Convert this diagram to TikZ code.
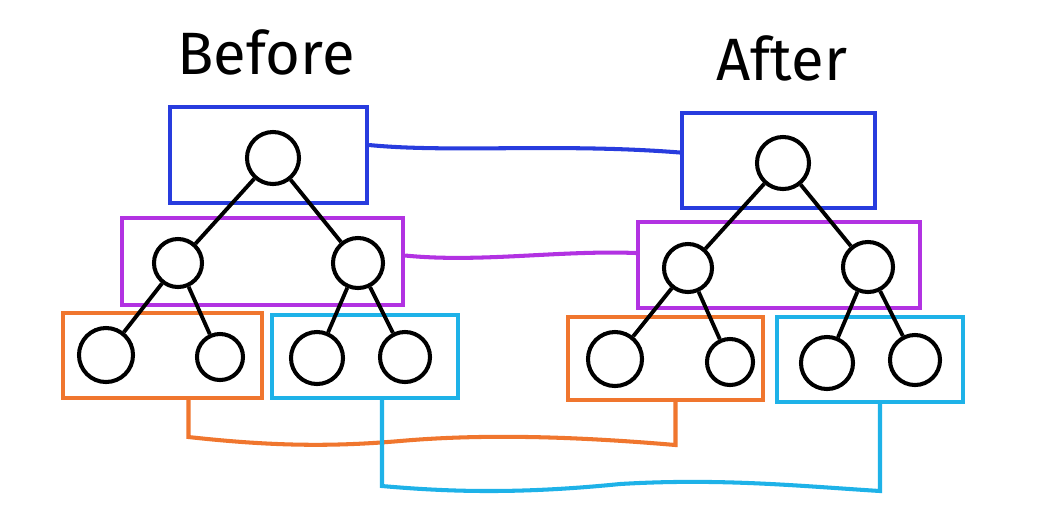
\documentclass[tikz,border=0pt]{standalone}
\usepackage{fontspec}
\setmainfont{Fira Sans}
\usetikzlibrary{calc}
\definecolor{cblue}{RGB}{40,60,222}
\definecolor{cpurple}{RGB}{178,50,226}
\definecolor{corange}{RGB}{240,118,46}
\definecolor{ccyan}{RGB}{30,178,232}
\tikzset{
  box/.style={draw, line width=1.15pt, inner sep=0pt},
  bnode/.style={draw=black, circle, line width=1.15pt, inner sep=0pt, minimum size=#1},
  tedge/.style={draw=black, line width=1.1pt},
  link/.style={line width=1.15pt},
  title/.style={font=\fontsize{17}{20}\selectfont, inner sep=0pt}
}
\begin{document}
\begin{tikzpicture}[x=0.01cm, y=-0.01cm]
\path[use as bounding box, fill=white] (0,0) rectangle (1039,514);

% titles
\node[title] (tbefore) at (266,52) {Before};
\node[title] (tafter) at (782,58) {After};

% ---------- left tree ----------
\node[box, draw=cblue, minimum width=1.97cm, minimum height=0.96cm] (lblue) at (268.5,155) {};
\node[box, draw=cpurple, minimum width=2.81cm, minimum height=0.87cm] (lpurple) at (262.5,261.5) {};
\node[box, draw=corange, minimum width=1.99cm, minimum height=0.85cm] (lorange) at (162.5,355.5) {};
\node[box, draw=ccyan, minimum width=1.86cm, minimum height=0.83cm] (lcyan) at (365,356.5) {};

\node[bnode=0.52cm] (lroot) at (273,158) {};
\node[bnode=0.48cm] (lA) at (178,263) {};
\node[bnode=0.50cm] (lB) at (358,263) {};
\node[bnode=0.54cm] (l1) at (106,355) {};
\node[bnode=0.46cm] (l2) at (220,357) {};
\node[bnode=0.52cm] (l3) at (317,358) {};
\node[bnode=0.50cm] (l4) at (405,357) {};

\draw[tedge] (lroot) -- (lA);
\draw[tedge] (lroot) -- (lB);
\draw[tedge] (lA) -- (l1);
\draw[tedge] (lA) -- (l2);
\draw[tedge] (lB) -- (l3);
\draw[tedge] (lB) -- (l4);

% ---------- right tree ----------
\node[box, draw=cblue, minimum width=1.93cm, minimum height=0.95cm] (rblue) at (778.5,160.5) {};
\node[box, draw=cpurple, minimum width=2.82cm, minimum height=0.86cm] (rpurple) at (779,265) {};
\node[box, draw=corange, minimum width=1.95cm, minimum height=0.83cm] (rorange) at (665.5,358.5) {};
\node[box, draw=ccyan, minimum width=1.86cm, minimum height=0.85cm] (rcyan) at (870,359.5) {};

\node[bnode=0.52cm] (rroot) at (783,163) {};
\node[bnode=0.48cm] (rA) at (688,268) {};
\node[bnode=0.50cm] (rB) at (868,267) {};
\node[bnode=0.54cm] (r1) at (615,359) {};
\node[bnode=0.46cm] (r2) at (730,362) {};
\node[bnode=0.52cm] (r3) at (827,363) {};
\node[bnode=0.50cm] (r4) at (915,360) {};

\draw[tedge] (rroot) -- (rA);
\draw[tedge] (rroot) -- (rB);
\draw[tedge] (rA) -- (r1);
\draw[tedge] (rA) -- (r2);
\draw[tedge] (rB) -- (r3);
\draw[tedge] (rB) -- (r4);

% ---------- links ----------
\coordinate (bl) at ($(lblue.east)+(0,-10)$);
\coordinate (br) at ($(rblue.west)+(0,-8)$);
\draw[link, cblue] (bl) .. controls (450,153) and (560,143) .. (br);

\coordinate (pl) at ($(lpurple.east)+(0,-6)$);
\coordinate (pr) at ($(rpurple.west)+(0,-12)$);
\draw[link, cpurple] (pl) .. controls (480,263) and (560,250) .. (pr);

\coordinate (ol) at ($(lorange.south)+(26,0)$);
\coordinate (or) at ($(rorange.south)+(10,0)$);
\draw[link, corange] (ol) -- (ol |- 0,437)
  .. controls (270,446) and (330,447) .. (400,441)
  .. controls (480,434) and (570,436) .. (or |- 0,445) -- (or);

\coordinate (cl) at ($(lcyan.south)+(17,0)$);
\coordinate (cr) at ($(rcyan.south)+(10,0)$);
\draw[link, ccyan] (cl) -- (cl |- 0,486)
  .. controls (450,492) and (520,494) .. (620,484)
  .. controls (720,478) and (800,486) .. (cr |- 0,491) -- (cr);
\end{tikzpicture}
\end{document}
